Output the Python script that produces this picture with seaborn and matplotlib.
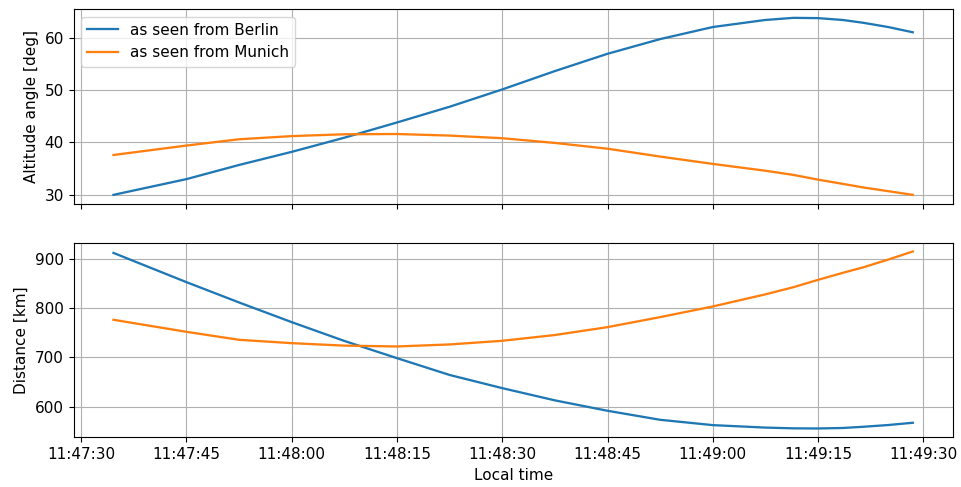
import pandas as pd
import seaborn as sns
import matplotlib
matplotlib.use("Agg")
import matplotlib.pyplot as plt
import matplotlib.dates as mdates

# seconds after 11:47:30 local time
seconds = [4.6, 15.0, 22.5, 30.0, 37.5, 45.0, 52.5, 60.0, 67.5, 75.0,
           82.5, 90.0, 97.5, 101.5, 105.0, 108.5, 111.5, 115.0, 118.5]

alt_berlin = [30.0, 33.0, 35.7, 38.2, 40.9, 43.8, 46.8, 50.1, 53.6, 56.9,
              59.7, 62.0, 63.35, 63.75, 63.7, 63.35, 62.8, 62.0, 61.0]
alt_munich = [37.6, 39.4, 40.6, 41.2, 41.55, 41.6, 41.3, 40.8, 39.9, 38.8,
              37.3, 35.9, 34.6, 33.8, 32.9, 32.1, 31.4, 30.7, 30.0]

dist_berlin = [912.0, 852.7, 811.5, 771.6, 733.5, 698.6, 664.5, 637.8, 613.0, 591.9,
               573.6, 562.8, 557.8, 556.3, 556.0, 557.0, 559.5, 563.0, 567.6]
dist_munich = [776.4, 752.0, 735.8, 729.0, 724.0, 722.3, 726.4, 733.8, 745.5, 761.5,
               781.8, 803.4, 828.0, 842.5, 857.4, 871.5, 883.0, 898.5, 914.9]

labels = ["as seen from Berlin", "as seen from Munich"]
colors = ["#1f77b4", "#ff7f0e"]


def build_frame():
    """Long-format table of both observers."""
    start = pd.Timestamp("2024-01-01 11:47:30")
    times = [start + pd.Timedelta(seconds=s) for s in seconds]
    rows = []
    for label, alt, dist in zip(labels, [alt_berlin, alt_munich], [dist_berlin, dist_munich]):
        for t, a, d in zip(times, alt, dist):
            rows.append({"time": t, "altitude": a, "distance": d, "observer": label})
    return pd.DataFrame(rows)


def main():
    plt.rcParams["font.size"] = 11
    data = build_frame()

    fig, (ax1, ax2) = plt.subplots(2, 1, figsize=(9.61, 4.87), dpi=100, sharex=True)
    fig.subplots_adjust(left=0.0765, right=0.9914, top=0.9815, bottom=0.102, hspace=0.2)

    sns.lineplot(data=data, x="time", y="altitude", hue="observer",
                 palette=colors, linewidth=1.65, ax=ax1)
    sns.lineplot(data=data, x="time", y="distance", hue="observer",
                 palette=colors, linewidth=1.65, ax=ax2, legend=False)

    ax1.legend(loc="upper left", title=None)
    ax1.set_xlabel("")
    ax1.set_ylabel("Altitude angle [deg]")
    ax2.set_ylabel("Distance [km]")
    ax2.set_xlabel("Local time")

    for ax in (ax1, ax2):
        ax.grid(True)
        ax.xaxis.set_major_locator(mdates.SecondLocator(bysecond=[0, 15, 30, 45]))
        ax.xaxis.set_major_formatter(mdates.DateFormatter("%H:%M:%S"))

    fig.savefig("out.png", dpi=100)


if __name__ == "__main__":
    main()
